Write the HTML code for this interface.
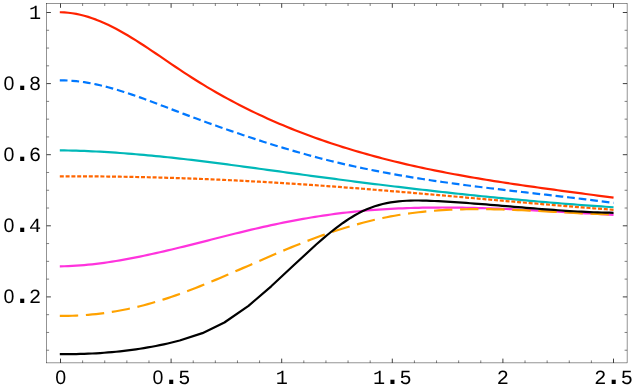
<!DOCTYPE html>
<html><head><meta charset="utf-8"><title>plot</title>
<style>html,body{margin:0;padding:0;background:#fff;overflow:hidden}svg{display:block;will-change:transform}text{font-family:"Liberation Mono",monospace;font-size:20.2px;fill:#000;text-anchor:middle;text-rendering:geometricPrecision}.z{font-family:"Liberation Sans",sans-serif;font-size:19.6px}.d{font-weight:bold;font-size:29px}</style></head>
<body>
<svg width="633" height="392" viewBox="0 0 633 392">
<rect x="0" y="0" width="633" height="392" fill="#fff"/>
<g fill="none" stroke-linejoin="round">
<path d="M59.80 12.26 L60.30 12.26 L64.28 12.42 L68.26 12.75 L72.24 13.25 L76.22 13.91 L80.20 14.74 L84.18 15.74 L88.16 16.89 L92.14 18.20 L96.12 19.65 L100.10 21.24 L104.08 22.96 L108.06 24.80 L112.04 26.76 L116.02 28.82 L120.00 30.98 L123.98 33.22 L127.96 35.55 L131.94 37.96 L135.92 40.43 L139.90 42.95 L143.88 45.53 L147.86 48.15 L151.84 50.80 L155.83 53.49 L159.81 56.18 L163.79 58.89 L167.77 61.61 L171.75 64.31 L175.73 67.01 L179.71 69.68 L183.69 72.33 L187.67 74.93 L191.65 77.50 L195.63 80.02 L199.61 82.49 L203.59 84.93 L207.57 87.32 L211.55 89.67 L215.53 91.97 L219.51 94.24 L223.49 96.46 L227.47 98.65 L231.45 100.80 L235.43 102.90 L239.41 104.97 L243.39 107.00 L247.37 109.00 L251.35 110.96 L255.33 112.88 L259.31 114.76 L263.29 116.61 L267.27 118.43 L271.25 120.21 L275.23 121.96 L279.21 123.68 L283.19 125.36 L287.17 127.01 L291.15 128.63 L295.13 130.22 L299.11 131.78 L303.09 133.31 L307.07 134.81 L311.05 136.28 L315.03 137.72 L319.01 139.14 L322.99 140.53 L326.97 141.89 L330.95 143.23 L334.93 144.54 L338.92 145.82 L342.90 147.09 L346.88 148.32 L350.86 149.54 L354.84 150.73 L358.82 151.90 L362.80 153.05 L366.78 154.17 L370.76 155.28 L374.74 156.36 L378.72 157.42 L382.70 158.46 L386.68 159.49 L390.66 160.49 L394.64 161.47 L398.62 162.44 L402.60 163.39 L406.58 164.32 L410.56 165.23 L414.54 166.12 L418.52 167.00 L422.50 167.86 L426.48 168.71 L430.46 169.54 L434.44 170.36 L438.42 171.16 L442.40 171.94 L446.38 172.72 L450.36 173.48 L454.34 174.22 L458.32 174.95 L462.30 175.67 L466.28 176.38 L470.26 177.08 L474.24 177.77 L478.22 178.44 L482.20 179.10 L486.18 179.76 L490.16 180.40 L494.14 181.04 L498.12 181.67 L502.10 182.28 L506.08 182.89 L510.06 183.49 L514.04 184.09 L518.02 184.68 L522.01 185.26 L525.99 185.83 L529.97 186.40 L533.95 186.96 L537.93 187.52 L541.91 188.08 L545.89 188.63 L549.87 189.17 L553.85 189.71 L557.83 190.25 L561.81 190.79 L565.79 191.32 L569.77 191.85 L573.75 192.38 L577.73 192.91 L581.71 193.44 L585.69 193.97 L589.67 194.50 L593.65 195.03 L597.63 195.56 L601.61 196.09 L605.59 196.62 L609.57 197.15 L613.55 197.69" stroke="#ff2200" stroke-width="2.2"/>
<path d="M59.80 80.29 L60.30 80.29 L64.28 80.37 L68.26 80.56 L72.24 80.83 L76.22 81.19 L80.20 81.65 L84.18 82.20 L88.16 82.84 L92.14 83.57 L96.12 84.37 L100.10 85.26 L104.08 86.22 L108.06 87.25 L112.04 88.34 L116.02 89.49 L120.00 90.69 L123.98 91.95 L127.96 93.25 L131.94 94.59 L135.92 95.97 L139.90 97.39 L143.88 98.83 L147.86 100.30 L151.84 101.78 L155.83 103.29 L159.81 104.80 L163.79 106.32 L167.77 107.84 L171.75 109.36 L175.73 110.87 L179.71 112.37 L183.69 113.87 L187.67 115.36 L191.65 116.84 L195.63 118.31 L199.61 119.77 L203.59 121.22 L207.57 122.67 L211.55 124.10 L215.53 125.52 L219.51 126.94 L223.49 128.34 L227.47 129.73 L231.45 131.11 L235.43 132.48 L239.41 133.83 L243.39 135.18 L247.37 136.51 L251.35 137.83 L255.33 139.13 L259.31 140.42 L263.29 141.70 L267.27 142.96 L271.25 144.21 L275.23 145.44 L279.21 146.66 L283.19 147.86 L287.17 149.05 L291.15 150.22 L295.13 151.37 L299.11 152.51 L303.09 153.63 L307.07 154.73 L311.05 155.82 L315.03 156.89 L319.01 157.94 L322.99 158.97 L326.97 159.98 L330.95 160.97 L334.93 161.94 L338.92 162.90 L342.90 163.83 L346.88 164.74 L350.86 165.64 L354.84 166.52 L358.82 167.37 L362.80 168.22 L366.78 169.04 L370.76 169.85 L374.74 170.64 L378.72 171.42 L382.70 172.18 L386.68 172.92 L390.66 173.65 L394.64 174.36 L398.62 175.07 L402.60 175.75 L406.58 176.43 L410.56 177.09 L414.54 177.74 L418.52 178.38 L422.50 179.00 L426.48 179.61 L430.46 180.22 L434.44 180.81 L438.42 181.39 L442.40 181.97 L446.38 182.53 L450.36 183.08 L454.34 183.63 L458.32 184.17 L462.30 184.70 L466.28 185.22 L470.26 185.73 L474.24 186.24 L478.22 186.74 L482.20 187.24 L486.18 187.73 L490.16 188.22 L494.14 188.70 L498.12 189.18 L502.10 189.65 L506.08 190.12 L510.06 190.59 L514.04 191.05 L518.02 191.51 L522.01 191.97 L525.99 192.43 L529.97 192.89 L533.95 193.34 L537.93 193.80 L541.91 194.25 L545.89 194.71 L549.87 195.17 L553.85 195.62 L557.83 196.08 L561.81 196.55 L565.79 197.01 L569.77 197.48 L573.75 197.95 L577.73 198.42 L581.71 198.90 L585.69 199.38 L589.67 199.87 L593.65 200.36 L597.63 200.85 L601.61 201.36 L605.59 201.87 L609.57 202.38 L613.55 202.90" stroke="#0078ff" stroke-width="2.2" stroke-dasharray="7.74 3.88"/>
<path d="M59.80 150.35 L60.30 150.35 L64.28 150.41 L68.26 150.49 L72.24 150.58 L76.22 150.70 L80.20 150.83 L84.18 150.97 L88.16 151.14 L92.14 151.31 L96.12 151.51 L100.10 151.72 L104.08 151.94 L108.06 152.18 L112.04 152.43 L116.02 152.70 L120.00 152.98 L123.98 153.27 L127.96 153.58 L131.94 153.90 L135.92 154.23 L139.90 154.57 L143.88 154.93 L147.86 155.29 L151.84 155.67 L155.83 156.06 L159.81 156.46 L163.79 156.86 L167.77 157.28 L171.75 157.71 L175.73 158.14 L179.71 158.58 L183.69 159.03 L187.67 159.49 L191.65 159.96 L195.63 160.43 L199.61 160.92 L203.59 161.40 L207.57 161.90 L211.55 162.40 L215.53 162.90 L219.51 163.41 L223.49 163.93 L227.47 164.44 L231.45 164.97 L235.43 165.50 L239.41 166.03 L243.39 166.56 L247.37 167.10 L251.35 167.64 L255.33 168.18 L259.31 168.72 L263.29 169.26 L267.27 169.81 L271.25 170.36 L275.23 170.90 L279.21 171.45 L283.19 172.00 L287.17 172.54 L291.15 173.09 L295.13 173.63 L299.11 174.18 L303.09 174.72 L307.07 175.26 L311.05 175.79 L315.03 176.33 L319.01 176.86 L322.99 177.39 L326.97 177.92 L330.95 178.44 L334.93 178.96 L338.92 179.48 L342.90 180.00 L346.88 180.51 L350.86 181.03 L354.84 181.54 L358.82 182.04 L362.80 182.55 L366.78 183.05 L370.76 183.55 L374.74 184.04 L378.72 184.53 L382.70 185.02 L386.68 185.51 L390.66 185.99 L394.64 186.47 L398.62 186.95 L402.60 187.43 L406.58 187.90 L410.56 188.37 L414.54 188.83 L418.52 189.29 L422.50 189.75 L426.48 190.21 L430.46 190.66 L434.44 191.11 L438.42 191.55 L442.40 192.00 L446.38 192.43 L450.36 192.87 L454.34 193.30 L458.32 193.73 L462.30 194.15 L466.28 194.57 L470.26 194.99 L474.24 195.40 L478.22 195.81 L482.20 196.22 L486.18 196.62 L490.16 197.02 L494.14 197.41 L498.12 197.80 L502.10 198.19 L506.08 198.57 L510.06 198.95 L514.04 199.33 L518.02 199.70 L522.01 200.06 L525.99 200.42 L529.97 200.78 L533.95 201.14 L537.93 201.48 L541.91 201.83 L545.89 202.17 L549.87 202.51 L553.85 202.84 L557.83 203.17 L561.81 203.49 L565.79 203.81 L569.77 204.12 L573.75 204.43 L577.73 204.74 L581.71 205.04 L585.69 205.33 L589.67 205.62 L593.65 205.91 L597.63 206.19 L601.61 206.46 L605.59 206.74 L609.57 207.00 L613.55 207.26" stroke="#00b8b8" stroke-width="2.2"/>
<path d="M59.80 176.36 L60.30 176.36 L64.28 176.34 L68.26 176.34 L72.24 176.33 L76.22 176.33 L80.20 176.34 L84.18 176.35 L88.16 176.37 L92.14 176.39 L96.12 176.42 L100.10 176.46 L104.08 176.49 L108.06 176.54 L112.04 176.58 L116.02 176.64 L120.00 176.70 L123.98 176.76 L127.96 176.83 L131.94 176.90 L135.92 176.98 L139.90 177.06 L143.88 177.15 L147.86 177.24 L151.84 177.34 L155.83 177.44 L159.81 177.55 L163.79 177.66 L167.77 177.78 L171.75 177.90 L175.73 178.03 L179.71 178.16 L183.69 178.29 L187.67 178.43 L191.65 178.58 L195.63 178.72 L199.61 178.88 L203.59 179.04 L207.57 179.20 L211.55 179.37 L215.53 179.54 L219.51 179.71 L223.49 179.89 L227.47 180.08 L231.45 180.27 L235.43 180.46 L239.41 180.66 L243.39 180.86 L247.37 181.07 L251.35 181.28 L255.33 181.49 L259.31 181.71 L263.29 181.94 L267.27 182.16 L271.25 182.40 L275.23 182.63 L279.21 182.87 L283.19 183.12 L287.17 183.36 L291.15 183.62 L295.13 183.87 L299.11 184.13 L303.09 184.40 L307.07 184.66 L311.05 184.93 L315.03 185.21 L319.01 185.49 L322.99 185.77 L326.97 186.06 L330.95 186.35 L334.93 186.64 L338.92 186.94 L342.90 187.24 L346.88 187.54 L350.86 187.84 L354.84 188.15 L358.82 188.46 L362.80 188.77 L366.78 189.09 L370.76 189.41 L374.74 189.73 L378.72 190.05 L382.70 190.38 L386.68 190.70 L390.66 191.03 L394.64 191.36 L398.62 191.70 L402.60 192.03 L406.58 192.37 L410.56 192.71 L414.54 193.04 L418.52 193.39 L422.50 193.73 L426.48 194.07 L430.46 194.41 L434.44 194.76 L438.42 195.11 L442.40 195.45 L446.38 195.80 L450.36 196.15 L454.34 196.50 L458.32 196.84 L462.30 197.19 L466.28 197.54 L470.26 197.89 L474.24 198.24 L478.22 198.59 L482.20 198.94 L486.18 199.29 L490.16 199.64 L494.14 199.99 L498.12 200.34 L502.10 200.68 L506.08 201.03 L510.06 201.38 L514.04 201.72 L518.02 202.07 L522.01 202.41 L525.99 202.75 L529.97 203.09 L533.95 203.43 L537.93 203.77 L541.91 204.11 L545.89 204.44 L549.87 204.77 L553.85 205.11 L557.83 205.43 L561.81 205.76 L565.79 206.09 L569.77 206.41 L573.75 206.73 L577.73 207.05 L581.71 207.37 L585.69 207.68 L589.67 207.99 L593.65 208.30 L597.63 208.60 L601.61 208.91 L605.59 209.21 L609.57 209.50 L613.55 209.80" stroke="#ff6600" stroke-width="2.2" stroke-dasharray="4 1.8"/>
<path d="M59.80 266.37 L60.30 266.37 L64.28 266.27 L68.26 266.13 L72.24 265.94 L76.22 265.70 L80.20 265.41 L84.18 265.08 L88.16 264.70 L92.14 264.29 L96.12 263.83 L100.10 263.34 L104.08 262.81 L108.06 262.24 L112.04 261.64 L116.02 261.01 L120.00 260.34 L123.98 259.64 L127.96 258.92 L131.94 258.17 L135.92 257.39 L139.90 256.59 L143.88 255.76 L147.86 254.92 L151.84 254.05 L155.83 253.17 L159.81 252.27 L163.79 251.35 L167.77 250.42 L171.75 249.47 L175.73 248.51 L179.71 247.54 L183.69 246.56 L187.67 245.58 L191.65 244.58 L195.63 243.58 L199.61 242.58 L203.59 241.57 L207.57 240.56 L211.55 239.55 L215.53 238.54 L219.51 237.53 L223.49 236.53 L227.47 235.53 L231.45 234.53 L235.43 233.55 L239.41 232.57 L243.39 231.60 L247.37 230.64 L251.35 229.69 L255.33 228.76 L259.31 227.85 L263.29 226.94 L267.27 226.06 L271.25 225.19 L275.23 224.34 L279.21 223.51 L283.19 222.69 L287.17 221.90 L291.15 221.12 L295.13 220.36 L299.11 219.63 L303.09 218.91 L307.07 218.21 L311.05 217.54 L315.03 216.88 L319.01 216.25 L322.99 215.64 L326.97 215.06 L330.95 214.49 L334.93 213.95 L338.92 213.44 L342.90 212.95 L346.88 212.48 L350.86 212.04 L354.84 211.62 L358.82 211.23 L362.80 210.85 L366.78 210.50 L370.76 210.17 L374.74 209.87 L378.72 209.58 L382.70 209.31 L386.68 209.07 L390.66 208.84 L394.64 208.64 L398.62 208.45 L402.60 208.28 L406.58 208.13 L410.56 208.00 L414.54 207.88 L418.52 207.78 L422.50 207.70 L426.48 207.63 L430.46 207.58 L434.44 207.55 L438.42 207.53 L442.40 207.52 L446.38 207.53 L450.36 207.55 L454.34 207.58 L458.32 207.63 L462.30 207.69 L466.28 207.76 L470.26 207.84 L474.24 207.93 L478.22 208.03 L482.20 208.15 L486.18 208.27 L490.16 208.40 L494.14 208.55 L498.12 208.70 L502.10 208.85 L506.08 209.02 L510.06 209.19 L514.04 209.37 L518.02 209.56 L522.01 209.75 L525.99 209.95 L529.97 210.15 L533.95 210.36 L537.93 210.57 L541.91 210.79 L545.89 211.01 L549.87 211.23 L553.85 211.45 L557.83 211.68 L561.81 211.91 L565.79 212.14 L569.77 212.37 L573.75 212.60 L577.73 212.83 L581.71 213.06 L585.69 213.29 L589.67 213.52 L593.65 213.75 L597.63 213.98 L601.61 214.20 L605.59 214.42 L609.57 214.64 L613.55 214.85" stroke="#ff33dd" stroke-width="2.2"/>
<path d="M59.80 315.91 L60.30 315.91 L64.28 315.90 L68.26 315.85 L72.24 315.75 L76.22 315.59 L80.20 315.39 L84.18 315.13 L88.16 314.82 L92.14 314.46 L96.12 314.05 L100.10 313.60 L104.08 313.09 L108.06 312.52 L112.04 311.91 L116.02 311.25 L120.00 310.54 L123.98 309.78 L127.96 308.96 L131.94 308.10 L135.92 307.18 L139.90 306.22 L143.88 305.20 L147.86 304.14 L151.84 303.02 L155.83 301.85 L159.81 300.64 L163.79 299.39 L167.77 298.09 L171.75 296.74 L175.73 295.36 L179.71 293.95 L183.69 292.50 L187.67 291.01 L191.65 289.50 L195.63 287.95 L199.61 286.38 L203.59 284.78 L207.57 283.16 L211.55 281.52 L215.53 279.86 L219.51 278.19 L223.49 276.50 L227.47 274.79 L231.45 273.08 L235.43 271.35 L239.41 269.62 L243.39 267.88 L247.37 266.14 L251.35 264.40 L255.33 262.66 L259.31 260.93 L263.29 259.20 L267.27 257.47 L271.25 255.76 L275.23 254.05 L279.21 252.36 L283.19 250.68 L287.17 249.03 L291.15 247.38 L295.13 245.77 L299.11 244.17 L303.09 242.60 L307.07 241.05 L311.05 239.54 L315.03 238.05 L319.01 236.59 L322.99 235.16 L326.97 233.77 L330.95 232.40 L334.93 231.07 L338.92 229.78 L342.90 228.51 L346.88 227.29 L350.86 226.10 L354.84 224.95 L358.82 223.84 L362.80 222.77 L366.78 221.74 L370.76 220.74 L374.74 219.80 L378.72 218.89 L382.70 218.03 L386.68 217.21 L390.66 216.44 L394.64 215.72 L398.62 215.04 L402.60 214.40 L406.58 213.81 L410.56 213.25 L414.54 212.74 L418.52 212.26 L422.50 211.82 L426.48 211.42 L430.46 211.06 L434.44 210.73 L438.42 210.44 L442.40 210.17 L446.38 209.94 L450.36 209.74 L454.34 209.57 L458.32 209.43 L462.30 209.32 L466.28 209.23 L470.26 209.17 L474.24 209.13 L478.22 209.12 L482.20 209.13 L486.18 209.16 L490.16 209.21 L494.14 209.28 L498.12 209.37 L502.10 209.47 L506.08 209.59 L510.06 209.72 L514.04 209.87 L518.02 210.03 L522.01 210.20 L525.99 210.38 L529.97 210.57 L533.95 210.76 L537.93 210.96 L541.91 211.17 L545.89 211.38 L549.87 211.60 L553.85 211.81 L557.83 212.03 L561.81 212.24 L565.79 212.46 L569.77 212.67 L573.75 212.88 L577.73 213.08 L581.71 213.28 L585.69 213.46 L589.67 213.65 L593.65 213.82 L597.63 213.98 L601.61 214.12 L605.59 214.26 L609.57 214.38 L613.55 214.48" stroke="#ffa200" stroke-width="2.2" stroke-dasharray="18.4 7.7"/>
<path d="M59.80 354.12 L60.30 354.12 L64.28 354.15 L68.26 354.14 L72.24 354.11 L76.22 354.04 L80.20 353.95 L84.18 353.83 L88.16 353.68 L92.14 353.50 L96.12 353.29 L100.10 353.04 L104.08 352.77 L108.06 352.46 L112.04 352.11 L116.02 351.74 L120.00 351.33 L123.98 350.88 L127.96 350.40 L131.94 349.88 L135.92 349.32 L139.90 348.73 L143.88 348.10 L147.86 347.42 L151.84 346.71 L155.83 345.96 L159.81 345.17 L163.79 344.34 L167.77 343.47 L171.75 342.55 L179.70 340.55 L202.40 333.14 L224.40 322.52 L248.50 305.82 L271.20 286.31 L293.70 265.30 L316.20 244.52 L322.99 238.60 L326.97 235.24 L330.95 231.99 L334.93 228.86 L338.92 225.85 L342.90 222.97 L346.88 220.25 L350.86 217.69 L354.84 215.30 L358.82 213.10 L362.80 211.09 L366.78 209.30 L370.76 207.70 L374.74 206.30 L378.72 205.08 L382.70 204.04 L386.68 203.15 L390.66 202.41 L394.64 201.81 L398.62 201.34 L402.60 200.98 L406.58 200.73 L410.56 200.58 L414.54 200.50 L418.52 200.50 L422.50 200.56 L426.48 200.67 L430.46 200.82 L434.44 201.00 L438.42 201.20 L442.40 201.41 L446.38 201.63 L450.36 201.87 L454.34 202.12 L458.32 202.38 L462.30 202.65 L466.28 202.94 L470.26 203.23 L474.24 203.53 L478.22 203.83 L482.20 204.15 L486.18 204.46 L490.16 204.79 L494.14 205.12 L498.12 205.45 L502.10 205.78 L506.08 206.12 L510.06 206.45 L514.04 206.79 L518.02 207.12 L522.01 207.46 L525.99 207.79 L529.97 208.12 L533.95 208.44 L537.93 208.76 L541.91 209.07 L545.89 209.38 L549.87 209.68 L553.85 209.97 L557.83 210.25 L561.81 210.52 L565.79 210.78 L569.77 211.03 L573.75 211.27 L577.73 211.49 L581.71 211.70 L585.69 211.90 L589.67 212.07 L593.65 212.24 L597.63 212.38 L601.61 212.51 L605.59 212.62 L609.57 212.71 L613.55 212.78" stroke="#000000" stroke-width="2.2"/>
</g>
<rect x="46.6" y="3.5" width="580.5" height="359.40" fill="none" stroke="#000" stroke-width="0.42"/>
<path d="M60.50 362.9 v-4.3 M60.50 3.5 v4.3 M171.10 362.9 v-4.3 M171.10 3.5 v4.3 M281.70 362.9 v-4.3 M281.70 3.5 v4.3 M392.30 362.9 v-4.3 M392.30 3.5 v4.3 M502.90 362.9 v-4.3 M502.90 3.5 v4.3 M613.50 362.9 v-4.3 M613.50 3.5 v4.3 M46.6 296.90 h4.3 M627.1 296.90 h-4.3 M46.6 225.80 h4.3 M627.1 225.80 h-4.3 M46.6 154.70 h4.3 M627.1 154.70 h-4.3 M46.6 83.60 h4.3 M627.1 83.60 h-4.3 M46.6 12.50 h4.3 M627.1 12.50 h-4.3" fill="none" stroke="#000" stroke-width="0.75"/>
<path d="M82.62 362.9 v-2.5 M82.62 3.5 v2.5 M104.74 362.9 v-2.5 M104.74 3.5 v2.5 M126.86 362.9 v-2.5 M126.86 3.5 v2.5 M148.98 362.9 v-2.5 M148.98 3.5 v2.5 M193.22 362.9 v-2.5 M193.22 3.5 v2.5 M215.34 362.9 v-2.5 M215.34 3.5 v2.5 M237.46 362.9 v-2.5 M237.46 3.5 v2.5 M259.58 362.9 v-2.5 M259.58 3.5 v2.5 M303.82 362.9 v-2.5 M303.82 3.5 v2.5 M325.94 362.9 v-2.5 M325.94 3.5 v2.5 M348.06 362.9 v-2.5 M348.06 3.5 v2.5 M370.18 362.9 v-2.5 M370.18 3.5 v2.5 M414.42 362.9 v-2.5 M414.42 3.5 v2.5 M436.54 362.9 v-2.5 M436.54 3.5 v2.5 M458.66 362.9 v-2.5 M458.66 3.5 v2.5 M480.78 362.9 v-2.5 M480.78 3.5 v2.5 M525.02 362.9 v-2.5 M525.02 3.5 v2.5 M547.14 362.9 v-2.5 M547.14 3.5 v2.5 M569.26 362.9 v-2.5 M569.26 3.5 v2.5 M591.38 362.9 v-2.5 M591.38 3.5 v2.5 M46.6 350.22 h2.5 M627.1 350.22 h-2.5 M46.6 332.45 h2.5 M627.1 332.45 h-2.5 M46.6 314.68 h2.5 M627.1 314.68 h-2.5 M46.6 279.12 h2.5 M627.1 279.12 h-2.5 M46.6 261.35 h2.5 M627.1 261.35 h-2.5 M46.6 243.57 h2.5 M627.1 243.57 h-2.5 M46.6 208.03 h2.5 M627.1 208.03 h-2.5 M46.6 190.25 h2.5 M627.1 190.25 h-2.5 M46.6 172.47 h2.5 M627.1 172.47 h-2.5 M46.6 136.93 h2.5 M627.1 136.93 h-2.5 M46.6 119.15 h2.5 M627.1 119.15 h-2.5 M46.6 101.38 h2.5 M627.1 101.38 h-2.5 M46.6 65.82 h2.5 M627.1 65.82 h-2.5 M46.6 48.05 h2.5 M627.1 48.05 h-2.5 M46.6 30.27 h2.5 M627.1 30.27 h-2.5" fill="none" stroke="#000" stroke-width="0.5"/>
<text y="18.85"><tspan x="35.10">1</tspan></text>
<text y="89.95"><tspan class="z" x="8.85">0</tspan><tspan class="d" x="22.10">.</tspan><tspan x="35.10">8</tspan></text>
<text y="161.05"><tspan class="z" x="8.85">0</tspan><tspan class="d" x="22.10">.</tspan><tspan x="35.10">6</tspan></text>
<text y="232.15"><tspan class="z" x="8.85">0</tspan><tspan class="d" x="22.10">.</tspan><tspan x="35.10">4</tspan></text>
<text y="303.25"><tspan class="z" x="8.85">0</tspan><tspan class="d" x="22.10">.</tspan><tspan x="35.10">2</tspan></text>
<text y="383.80"><tspan class="z" x="60.65">0</tspan></text>
<text y="383.80"><tspan class="z" x="158.05">0</tspan><tspan class="d" x="171.30">.</tspan><tspan x="184.30">5</tspan></text>
<text y="383.80"><tspan x="281.70">1</tspan></text>
<text y="383.80"><tspan x="379.10">1</tspan><tspan class="d" x="392.50">.</tspan><tspan x="405.50">5</tspan></text>
<text y="383.80"><tspan x="502.90">2</tspan></text>
<text y="383.80"><tspan x="600.30">2</tspan><tspan class="d" x="613.70">.</tspan><tspan x="626.70">5</tspan></text>
</svg>
</body></html>
